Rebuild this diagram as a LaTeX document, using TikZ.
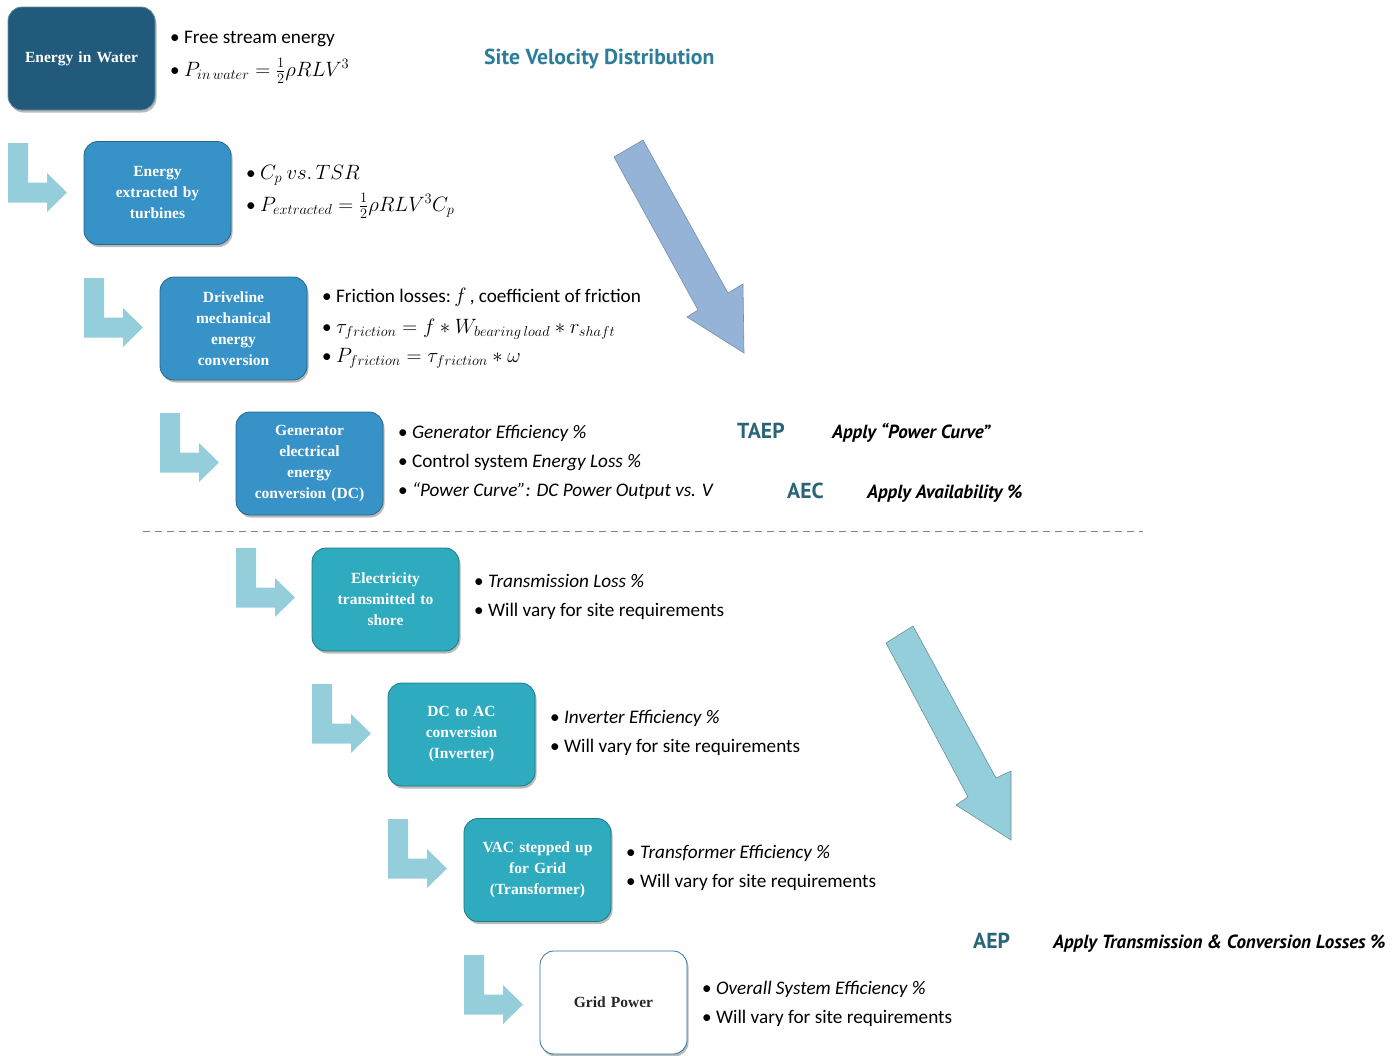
\documentclass[tikz,border=0pt]{standalone}
\usepackage{fontspec}
\setmainfont{Carlito}
\newfontfamily\boxfont{Liberation Serif}
\newfontfamily\headfont{PT Sans}
\usetikzlibrary{shadows}
\definecolor{cdark}{HTML}{215A7A}
\definecolor{cblue}{HTML}{3692C7}
\definecolor{cteal}{HTML}{2EABBF}
\definecolor{clight}{HTML}{95CEDB}
\definecolor{cbig}{HTML}{95B3D7}
\definecolor{chead}{HTML}{2D7D9A}
\definecolor{chead2}{HTML}{2A6577}
\newcommand\larrow[2]{\fill[clight] (#1,#2) -- ++(20,0) -- ++(0,39.5) -- ++(19,0) -- ++(0,-9.5) -- ++(20,19.5) -- ++(-20,19.5) -- ++(0,-9.5) -- ++(-39,0) -- cycle;}
\tikzset{
  stage/.style={rounded corners=14pt, minimum width=147pt, minimum height=103pt, text width=135pt, align=center,
    font=\boxfont\bfseries\fontsize{15.5}{21}\selectfont, text=white, line width=0.8pt,
    drop shadow={shadow xshift=1.5pt, shadow yshift=-2.5pt, opacity=0.45, fill=black!60}},
  bul/.style={anchor=base west, inner sep=0pt, font=\fontsize{19.2}{22}\selectfont},
  hd/.style={anchor=base west, inner sep=0pt, font=\headfont\bfseries\fontsize{21.7}{24}\selectfont, text=chead2},
  ap/.style={anchor=base west, inner sep=0pt, font=\headfont\bfseries\itshape\fontsize{19}{22}\selectfont},
}
\begin{document}
\begin{tikzpicture}[x=1pt,y=-1pt]
\useasboundingbox (0,0) rectangle (1400,1055);
% L arrows
\larrow{8}{143}
\larrow{84}{278}
\larrow{160}{413}
\larrow{236}{548}
\larrow{312}{684}
\larrow{388}{819}
\larrow{464}{955}
% boxes
\node[stage, fill=cdark, draw=cdark!70!white] (b1) at (81.5,58.5) {Energy in Water};
\node[stage, fill=cblue, draw=cblue!70!black] (b2) at (157.5,193) {Energy\\extracted by\\turbines};
\node[stage, fill=cblue, draw=cblue!70!black] (b3) at (233.5,328.5) {Driveline\\mechanical\\energy\\conversion};
\node[stage, fill=cblue, draw=cblue!70!black] (b4) at (309.5,463.5) {Generator\\electrical\\energy\\conversion (DC)};
\node[stage, fill=cteal, draw=cteal!70!black] (b5) at (385.5,599.5) {Electricity\\transmitted to\\shore};
\node[stage, fill=cteal, draw=cteal!70!black] (b6) at (461.5,734.5) {DC to AC\\conversion\\(Inverter)};
\node[stage, fill=cteal, draw=cteal!70!black] (b7) at (537.5,870) {VAC stepped up\\for Grid\\(Transformer)};
\node[stage, fill=white, draw=cblue!80!black, text=black!85] (b8) at (613.5,1002.5) {Grid Power};
% bullets
\node[bul] (t1a) at (170,43) {\textbullet\ Free stream energy};
\node[bul] (t1b) at (170,76) {\textbullet\ $P_{in\,water}=\frac{1}{2}\rho RLV^3$};
\node[bul] (t2a) at (246,179) {\textbullet\ $C_p\ vs.\, TSR$};
\node[bul] (t2b) at (246,211) {\textbullet\ $P_{extracted}=\frac{1}{2}\rho RLV^3C_p$};
\node[bul] (t3a) at (322,302) {\textbullet\ Friction losses:\,$f$\,, coefficient of friction};
\node[bul] (t3b) at (322,333) {\textbullet\ $\tau_{friction}=f\ast W_{bearing\,load}\ast r_{shaft}$};
\node[bul] (t3c) at (322,362) {\textbullet\ $P_{friction}=\tau_{friction}\ast\omega$};
\node[bul] (t4a) at (398,438) {\textbullet\ \textit{Generator Efficiency \%}};
\node[bul] (t4b) at (398,467) {\textbullet\ Control system \textit{Energy Loss \%}};
\node[bul] (t4c) at (398,496) {\textbullet\ \textit{“Power Curve”: DC Power Output vs. V}};
\node[bul] (t5a) at (474,587) {\textbullet\ \textit{Transmission Loss \%}};
\node[bul] (t5b) at (474,616) {\textbullet\ Will vary for site requirements};
\node[bul] (t6a) at (550,723) {\textbullet\ \textit{Inverter Efficiency \%}};
\node[bul] (t6b) at (550,752) {\textbullet\ Will vary for site requirements};
\node[bul] (t7a) at (626,858) {\textbullet\ \textit{Transformer Efficiency \%}};
\node[bul] (t7b) at (626,887) {\textbullet\ Will vary for site requirements};
\node[bul] (t8a) at (702,994) {\textbullet\ \textit{Overall System Efficiency \%}};
\node[bul] (t8b) at (702,1023) {\textbullet\ Will vary for site requirements};
% headers
\node[hd, text=chead] (svd) at (484,64) {Site Velocity Distribution};
\node[hd] (taep) at (737,438) {TAEP};
\node[ap] (taepx) at (832,438) {Apply “Power Curve”};
\node[hd] (aec) at (787,498) {AEC};
\node[ap] (aecx) at (867,498) {Apply Availability \%};
\node[hd] (aep) at (973,948) {AEP};
\node[ap] (aepx) at (1053,948) {Apply Transmission \& Conversion Losses \%};
% dashed separator
\draw[black!50, dashed, dash pattern=on 7pt off 5pt, line width=1pt] (143,531) -- (1143,531);
% big arrows
\fill[cbig, draw=cbig!80!black, line width=0.6pt] (614,157) -- (643,140) -- (728,293) -- (743,284) -- (744,353) -- (687,317) -- (698,310) -- cycle;
\fill[clight, draw=clight!70!black, line width=0.6pt] (886,643) -- (913,626) -- (996,778) -- (1011,771) -- (1011,840) -- (956,805) -- (968,797) -- cycle;
\end{tikzpicture}
\end{document}
